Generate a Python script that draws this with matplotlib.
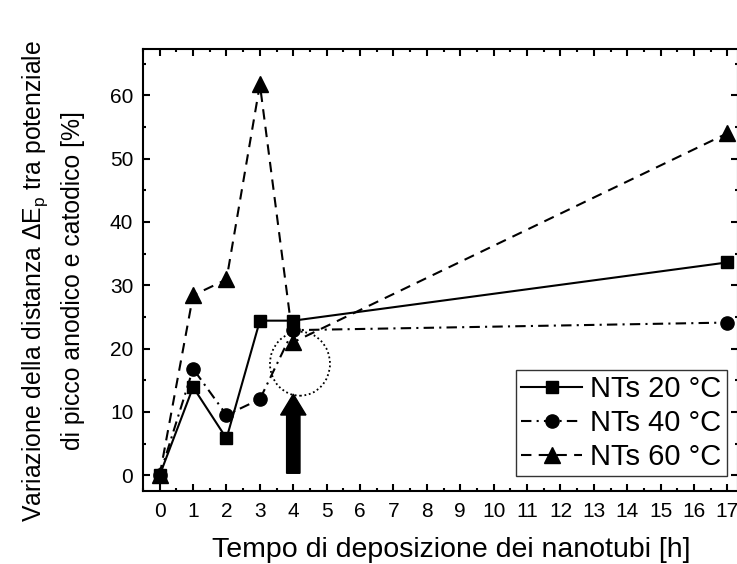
import matplotlib
matplotlib.use("Agg")
import matplotlib.pyplot as plt
from matplotlib.patches import Ellipse, FancyArrow
from matplotlib.ticker import MultipleLocator

plt.rcParams['font.family'] = ['Liberation Sans', 'DejaVu Sans']
plt.rcParams['mathtext.default'] = 'regular'

# deposition time [h]
hours = [0, 1, 2, 3, 4, 17]
# relative change of the peak separation ΔEp [%]
nts_20 = [0.0, 13.9, 5.8, 24.4, 24.4, 33.6]
nts_40 = [0.0, 16.8, 9.5, 12.0, 22.9, 24.1]
nts_60 = [0.0, 28.4, 30.9, 61.7, 21.0, 54.0]
series_labels = ["NTs 20 °C", "NTs 40 °C", "NTs 60 °C"]
x_ticks = list(range(0, 18))
y_ticks = [0, 10, 20, 30, 40, 50, 60]

W, H = 737, 564
fig = plt.figure(figsize=(W / 100, H / 100), dpi=100)
left, right, top, bottom = 143, 737.5, 49, 491
ax = fig.add_axes([left / W, 1 - bottom / H, (right - left) / W, (bottom - top) / H])

lw = 1.5
l40, = ax.plot(hours, nts_40, color='black', lw=lw, dashes=(5, 2.5, 1, 2.5),
               marker='o', ms=9.5, zorder=3, label=series_labels[1])
l20, = ax.plot(hours, nts_20, color='black', lw=lw, linestyle='-',
               marker='s', ms=8.5, zorder=4, label=series_labels[0])
l60, = ax.plot(hours, nts_60, color='black', lw=lw, dashes=(5, 3.5),
               marker='^', ms=11, zorder=5, label=series_labels[2])

# dotted ring and arrow highlighting the 4 h sample
ax.add_patch(Ellipse((4.2, 17.6), width=60 / 33.4, height=64 / 6.333,
                     fill=False, edgecolor='black', lw=1.3, linestyle=(0, (1, 1.5)),
                     zorder=2))
ax.add_patch(FancyArrow(4.0, 0.3, 0, 12.5, width=0.40, head_width=0.76,
                        head_length=3.3, length_includes_head=True,
                        color='black', zorder=6))

ax.set_xlim(-0.5, 17.3)
ax.set_ylim(-2.5, 67.3)
ax.set_xticks(x_ticks)
ax.set_yticks(y_ticks)
ax.xaxis.set_minor_locator(MultipleLocator(0.5))
ax.yaxis.set_minor_locator(MultipleLocator(5))
ax.tick_params(which='both', direction='in', top=True, right=True, width=1.5,
               labelsize=15, colors='black')
ax.tick_params(which='major', length=5)
ax.tick_params(which='minor', length=2.5)
ax.tick_params(axis='x', which='major', pad=8)
ax.tick_params(axis='y', which='major', pad=7)
for s in ax.spines.values():
    s.set_linewidth(1.5)

ax.set_xlabel("Tempo di deposizione dei nanotubi [h]", fontsize=20.5)
ax.xaxis.set_label_coords(0.518, -0.104)
fig.text(35 / W, 1 - 281 / H, "Variazione della distanza ΔE$_p$ tra potenziale",
         rotation=90, ha='center', va='center', fontsize=17.8)
fig.text(73 / W, 1 - 281 / H, "di picco anodico e catodico [%]",
         rotation=90, ha='center', va='center', fontsize=17.8)

leg = ax.legend(handles=[l20, l40, l60], loc='lower right',
                bbox_to_anchor=(727 / W, 1 - 476 / H), bbox_transform=fig.transFigure,
                borderaxespad=0, fontsize=21, frameon=True, fancybox=False,
                edgecolor='black', numpoints=1, handlelength=2.1,
                handletextpad=0.28, labelspacing=0.2, borderpad=0.18)
leg.get_frame().set_linewidth(1.0)

fig.savefig("out.png", dpi=100)
